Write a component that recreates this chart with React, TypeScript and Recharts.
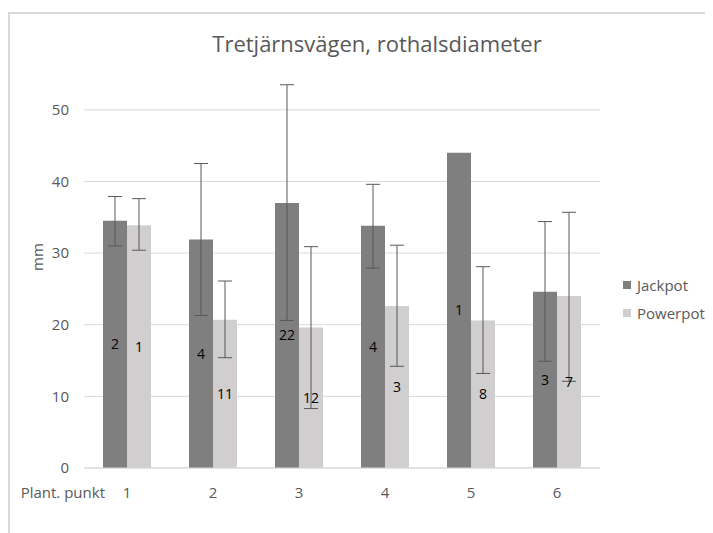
import { BarChart, Bar, XAxis, YAxis, CartesianGrid, ErrorBar, LabelList, Legend } from 'recharts'

const points = ['1', '2', '3', '4', '5', '6']

const jackpot = [34.5, 31.9, 37.0, 33.8, 44.0, 24.6]
const jackpotLow = [31.0, 21.3, 20.6, 27.9, 44.0, 14.9]
const jackpotHigh = [37.9, 42.5, 53.5, 39.6, 44.0, 34.4]
const jackpotCount = [2, 4, 22, 4, 1, 3]

const powerpot = [33.9, 20.7, 19.6, 22.6, 20.6, 24.0]
const powerpotLow = [30.4, 15.4, 8.3, 14.2, 13.2, 12.1]
const powerpotHigh = [37.6, 26.1, 30.9, 31.1, 28.1, 35.7]
const powerpotCount = [1, 11, 12, 3, 8, 7]

const yTicks = [0, 10, 20, 30, 40, 50]

const FONT = '"Open Sans", sans-serif'
const TEXT = '#595959'
const JACKPOT = '#7f7f7f'
const POWERPOT = '#d0cece'

// error bars want [minus, plus] deltas; a single plant has no spread, so no bar
const deltas = (v: number, lo: number, hi: number) => (lo === hi ? null : [v - lo, hi - v])

const data = points.map((p, i) => ({
  point: p,
  jackpot: jackpot[i],
  jackpotErr: deltas(jackpot[i], jackpotLow[i], jackpotHigh[i]),
  jackpotN: jackpotCount[i],
  powerpot: powerpot[i],
  powerpotErr: deltas(powerpot[i], powerpotLow[i], powerpotHigh[i]),
  powerpotN: powerpotCount[i],
}))

const XTick = (props: any) => {
  const { x, y, payload, index } = props
  return (
    <g>
      <text x={x} y={y + 16} textAnchor="middle" dominantBaseline="central" fill={TEXT} fontSize={15} fontFamily={FONT}>
        {payload.value}
      </text>
      {index === 0 && (
        <text x={x - 22} y={y + 16} textAnchor="end" dominantBaseline="central" fill={TEXT} fontSize={15} fontFamily={FONT}>
          Plant. punkt
        </text>
      )}
    </g>
  )
}

const LegendBox = () => (
  <div style={{ fontFamily: FONT, fontSize: 15, color: TEXT }}>
    {[
      { name: 'Jackpot', color: JACKPOT },
      { name: 'Powerpot', color: POWERPOT },
    ].map((item) => (
      <div key={item.name} style={{ display: 'flex', alignItems: 'center', height: 28 }}>
        <span style={{ width: 8, height: 8, background: item.color, marginRight: 6 }} />
        <span>{item.name}</span>
      </div>
    ))}
  </div>
)

export default function App() {
  return (
    <div style={{ position: 'relative', width: 705, height: 525 }}>
      <div
        style={{
          position: 'absolute',
          left: 0,
          top: 4,
          width: 705,
          height: 521,
          borderTop: '2px solid #d9d9d9',
          borderLeft: '2px solid #d9d9d9',
        }}
      />
      <div
        style={{
          position: 'absolute',
          left: 169,
          top: 24,
          width: 400,
          textAlign: 'center',
          fontFamily: FONT,
          fontSize: 22,
          lineHeight: '22px',
          color: TEXT,
          zIndex: 1,
        }}
      >
        Tretjärnsvägen, rothalsdiameter
      </div>
      <BarChart
        width={700}
        height={520}
        data={data}
        margin={{ top: 66, right: 108, bottom: 30, left: 26 }}
        barGap={0}
        barSize={24}
      >
        <CartesianGrid vertical={false} stroke="#d9d9d9" horizontalValues={yTicks} />
        <XAxis
          dataKey="point"
          height={30}
          tickLine={false}
          axisLine={{ stroke: '#d9d9d9' }}
          tick={<XTick />}
          interval={0}
        />
        <YAxis
          width={50}
          domain={[0, 55]}
          ticks={yTicks}
          tickLine={false}
          axisLine={false}
          tickMargin={9}
          tick={{ fill: TEXT, fontSize: 15, fontFamily: FONT }}
          label={{ value: 'mm', angle: -90, position: 'insideLeft', offset: 4, fill: TEXT, fontSize: 15, fontFamily: FONT }}
        />
        <Legend
          layout="vertical"
          align="center"
          verticalAlign="middle"
          content={<LegendBox />}
          wrapperStyle={{ position: 'absolute', left: 615, top: 263, width: 90, height: 56 }}
        />
        <Bar dataKey="jackpot" name="Jackpot" fill={JACKPOT} isAnimationActive={false}>
          <ErrorBar dataKey="jackpotErr" width={7} stroke="#595959" strokeWidth={1} />
          <LabelList dataKey="jackpotN" position="center" fill="#000" fontSize={14} fontFamily={FONT} />
        </Bar>
        <Bar dataKey="powerpot" name="Powerpot" fill={POWERPOT} isAnimationActive={false}>
          <ErrorBar dataKey="powerpotErr" width={7} stroke="#595959" strokeWidth={1} />
          <LabelList dataKey="powerpotN" position="center" fill="#000" fontSize={14} fontFamily={FONT} />
        </Bar>
      </BarChart>
    </div>
  )
}
